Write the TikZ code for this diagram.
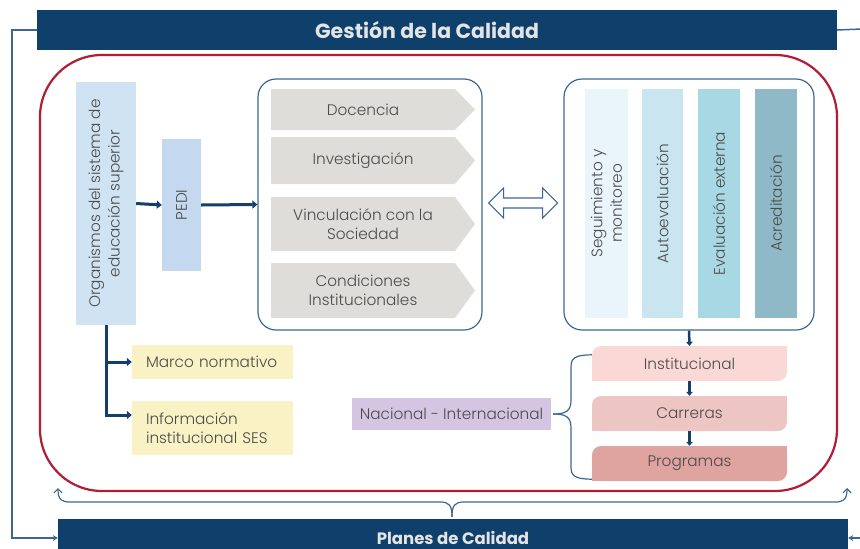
\documentclass[tikz,border=0pt]{standalone}
\usepackage{fontspec}
\setmainfont{Poppins}[UprightFont=* Light, BoldFont=* Bold]
\usetikzlibrary{arrows.meta}

\definecolor{navy}{HTML}{0F406C}
\definecolor{bannertext}{HTML}{E4E4E4}
\definecolor{redframe}{HTML}{B01D35}
\definecolor{frameblue}{HTML}{3D6792}
\definecolor{flowblue}{HTML}{133F69}
\definecolor{txtgray}{HTML}{4B4B4B}
\definecolor{orgfill}{HTML}{CFE3F3}
\definecolor{pedifill}{HTML}{C4D8EF}
\definecolor{chevfill}{HTML}{DEDDD9}
\definecolor{colA}{HTML}{EAF5FB}
\definecolor{colB}{HTML}{C9E6F0}
\definecolor{colC}{HTML}{A9D8E5}
\definecolor{colD}{HTML}{8FB9C6}
\definecolor{tierA}{HTML}{F9D8D6}
\definecolor{tierB}{HTML}{EDC5C3}
\definecolor{tierC}{HTML}{DFA3A0}
\definecolor{nacfill}{HTML}{D4C5E2}
\definecolor{srcfill}{HTML}{F8F2C4}

\tikzset{
  lbl/.style={text=txtgray, font=\fontsize{15.3}{19.5}\selectfont, align=center, inner sep=0pt},
  box/.style={lbl, fill=#1},
  banner/.style={fill=navy, inner sep=0pt},
  bannerlbl/.style={text=bannertext, font=\bfseries\fontsize{20.5}{24}\selectfont},
  frame/.style={draw=frameblue, line width=1.2pt, rounded corners=18pt},
  flow/.style={draw=flowblue, line width=3pt, -{Triangle[length=5pt,width=8pt]}},
  tierflow/.style={draw=flowblue, line width=2.5pt, -{Triangle[length=4pt,width=6.5pt]}},
  looppen/.style={draw=frameblue, line width=1.5pt},
  bracepen/.style={draw=frameblue, line width=1.2pt},
}

% grey pointed bars of the middle block
\newcommand{\chevbox}[4]{%
  \fill[chevfill] (271,#2) -- (455,#2) -- (475,{(#2+#3)/2}) -- (455,#3) -- (271,#3) -- cycle;
  \node[lbl] (#1) at (363,{(#2+#3)/2}) {#4};}

% pink levels, rounded top left and bottom right
\newcommand{\tierbox}[5]{%
  \fill[#2, rounded corners=9pt] (592,#3) rectangle (787,#4);
  \fill[#2] (770,#3) rectangle (787,{#3+12});
  \fill[#2] (592,{#4-12}) rectangle (610,#4);
  \node[lbl, minimum width=195pt, minimum height=35pt] (#1) at (689.5,{(#3+#4)/2}) {#5};}

\begin{document}
\begin{tikzpicture}[x=1pt, y=-1pt]
  \useasboundingbox (0,0) rectangle (860,549);
  \clip (0,0) rectangle (860,549);

  %% banners
  \node[banner, minimum width=800pt, minimum height=40pt] (gestion) at (437,30) {};
  \node[bannerlbl] (gestionlbl) at (427,30) {Gestión de la Calidad};
  \node[banner, minimum width=790pt, minimum height=38pt, bannerlbl, font=\bfseries\fontsize{16.5}{20}\selectfont]
    (planes) at (453,538) {Planes de Calidad};

  %% red frame
  \draw[draw=redframe, line width=2.2pt, rounded corners=62pt] (40,55) rectangle (837,491);

  %% left column
  \node[box=orgfill, rotate=90, minimum width=243pt, minimum height=60pt] (org) at (106,203.5)
    {Organismos del sistema de\\educación superior};
  \node[box=pedifill, rotate=90, minimum width=132pt, minimum height=39pt] (pedi) at (181.5,205) {PEDI};
  \node[box=srcfill, minimum width=161pt, minimum height=34pt, text width=133pt, align=left] (marco) at (212.5,362)
    {Marco normativo};
  \node[box=srcfill, minimum width=161pt, minimum height=54pt, text width=133pt, align=left] (info) at (212.5,428)
    {Información\\institucional SES};

  %% middle block
  \node[frame, minimum width=224pt, minimum height=251pt] (midbox) at (370,204.5) {};
  \chevbox{doc}{89}{130}{Docencia}
  \chevbox{inv}{137}{184}{Investigación}
  \chevbox{vin}{197}{251}{Vinculación con la\\Sociedad}
  \chevbox{cond}{263}{318}{Condiciones\\Institucionales}

  %% right block
  \node[frame, minimum width=250pt, minimum height=251pt] (rightbox) at (689,204.5) {};
  \node[box=colA, rotate=90, minimum width=229pt, minimum height=43pt] (seg) at (606.5,203.5) {Seguimiento y\\monitoreo};
  \node[box=colB, rotate=90, minimum width=229pt, minimum height=41pt] (auto) at (662.5,203.5) {Autoevaluación};
  \node[box=colC, rotate=90, minimum width=229pt, minimum height=42pt] (ext) at (719,203.5) {Evaluación externa};
  \node[box=colD, rotate=90, minimum width=229pt, minimum height=42pt] (acr) at (776,203.5) {Acreditación};

  %% hollow double arrow between the blocks
  \draw[draw=frameblue, line width=1.2pt, fill=white] ([xshift=6pt]midbox.east) ++(0,-1.5)
    -- ++(15,-15) -- ++(0,10) -- ++(39,0) -- ++(0,-10) -- ++(15,15)
    -- ++(-15,15) -- ++(0,-10) -- ++(-39,0) -- ++(0,10) -- cycle;

  %% levels
  \tierbox{inst}{tierA}{346}{381}{Institucional}
  \tierbox{carr}{tierB}{396}{431}{Carreras}
  \tierbox{prog}{tierC}{446}{481}{Programas}
  \node[box=nacfill, minimum width=199pt, minimum height=32pt] (nac) at (451.5,414) {Nacional - Internacional};

  %% arrows
  \draw[flow] (org.south) -- (pedi.north);
  \draw[flow] (pedi.south) -- (midbox.west);
  \draw[flow] (org.west) |- (marco.west);
  \draw[flow] (org.west) |- ([yshift=13pt]info.west);
  \draw[tierflow] (rightbox.south) -- (inst.north);
  \draw[tierflow] (inst.south) -- (carr.north);
  \draw[tierflow] (carr.south) -- (prog.north);

  %% brace of the levels
  \draw[bracepen] ([xshift=2pt]nac.east) .. controls (566,414) and (571,411) .. (571,400) -- (571,367)
    .. controls (571,358) and (575,355) .. ([yshift=-9pt]inst.north west);
  \draw[bracepen] ([xshift=2pt]nac.east) .. controls (566,414) and (571,417) .. (571,428) -- (571,467)
    .. controls (571,476) and (575,479) .. ([yshift=2pt]prog.south west);

  %% bottom brace
  \coordinate (bracetip) at (452,517);
  \coordinate (braceL) at (58,488);
  \coordinate (braceR) at (847,488);
  \draw[bracepen, -{Straight Barb[length=4pt,width=8pt]}] (bracetip) .. controls (452,505) and (449,502) .. (440,502)
    -- (70,502) .. controls (62,502) and (58,500) .. (braceL);
  \draw[bracepen, -{Straight Barb[length=4pt,width=8pt]}] (bracetip) .. controls (452,505) and (455,502) .. (464,502)
    -- (835,502) .. controls (843,502) and (847,500) .. (braceR);

  %% loops
  \coordinate (edgeT) at (862,29);
  \coordinate (edgeB) at (862,538);
  \draw[looppen, -{Stealth[length=5pt,width=6pt]}] (gestion.west) -- ++(-25,0) |- (planes.west);
  \draw[looppen] (gestion.east) -- (edgeT);
  \draw[looppen, -{Stealth[length=5pt,width=6pt]}] (edgeB) -- (planes.east);
\end{tikzpicture}
\end{document}
